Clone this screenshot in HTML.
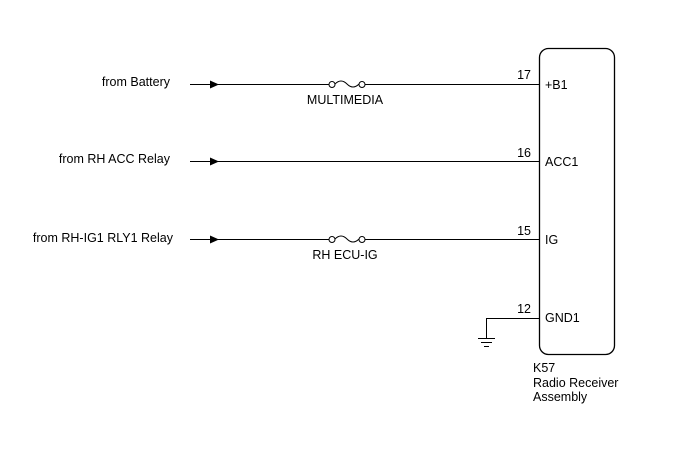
<!DOCTYPE html>
<html><head><style>body{margin:0;background:#fff}svg{display:block}text{font-family:"Liberation Sans",Arial,sans-serif;font-size:12.5px;fill:#000}</style></head><body>
<svg width="688" height="463" viewBox="0 0 688 463">
<rect x="539.5" y="48.5" width="75" height="306" rx="9" fill="none" stroke="#000" stroke-width="1.3"/>
<g stroke="#000" stroke-width="1" fill="none">
<line x1="190" y1="84.5" x2="329" y2="84.5"/><line x1="365" y1="84.5" x2="539" y2="84.5"/>
<circle cx="332" cy="84.5" r="3"/><circle cx="362" cy="84.5" r="3"/><path d="M335 84 Q341 78 347 84 Q353 90 359 84"/>
<line x1="190" y1="161.5" x2="539" y2="161.5"/>
<line x1="190" y1="239.5" x2="329" y2="239.5"/><line x1="365" y1="239.5" x2="539" y2="239.5"/>
<circle cx="332" cy="239.5" r="3"/><circle cx="362" cy="239.5" r="3"/><path d="M335 239 Q341 233 347 239 Q353 245 359 239"/>
<polyline points="539,318.5 486.5,318.5 486.5,338"/>
<line x1="478" y1="338.5" x2="495" y2="338.5"/><line x1="481" y1="342.5" x2="492" y2="342.5"/><line x1="484" y1="346.5" x2="489" y2="346.5"/>
</g>
<g fill="#000"><path d="M210 80.5 L219 84.5 L210 88.5Z"/><path d="M210 157.5 L219 161.5 L210 165.5Z"/><path d="M210 235.5 L219 239.5 L210 243.5Z"/></g>
<text x="170" y="86" text-anchor="end">from Battery</text>
<text x="170" y="163" text-anchor="end">from RH ACC Relay</text>
<text x="173" y="242" text-anchor="end">from RH-IG1 RLY1 Relay</text>
<text x="345" y="104" text-anchor="middle">MULTIMEDIA</text>
<text x="345" y="259" text-anchor="middle">RH ECU-IG</text>
<text x="531" y="79" text-anchor="end">17</text><text x="531" y="157" text-anchor="end">16</text>
<text x="531" y="235" text-anchor="end">15</text><text x="531" y="313" text-anchor="end">12</text>
<text x="545" y="89">+B1</text><text x="545" y="166">ACC1</text><text x="545" y="244">IG</text><text x="545" y="322">GND1</text>
<text x="533" y="372">K57</text><text x="533" y="387">Radio Receiver</text><text x="533" y="401">Assembly</text>
</svg></body></html>
